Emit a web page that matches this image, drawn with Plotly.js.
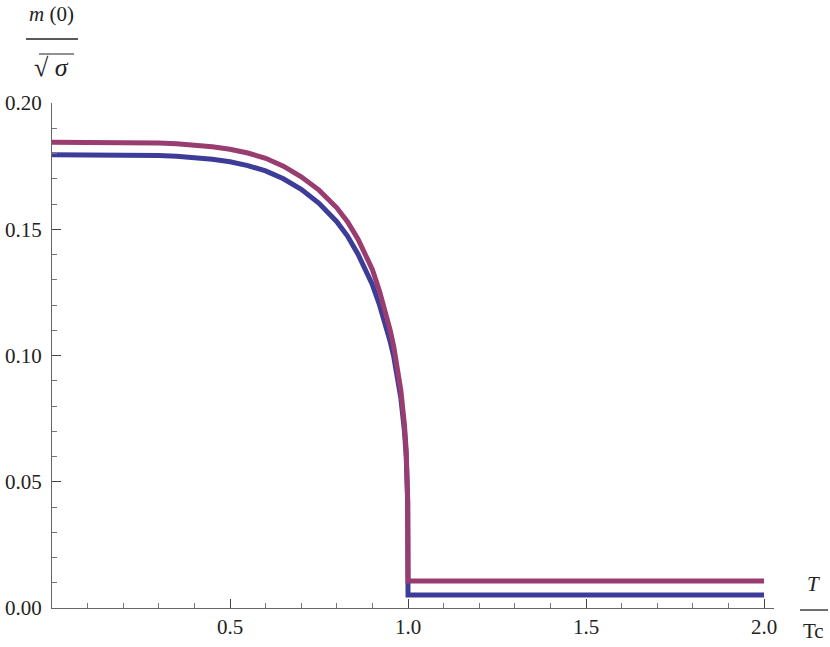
<!DOCTYPE html>
<html>
<head>
<meta charset="utf-8">
<script src="https://cdn.plot.ly/plotly-3.0.1.min.js"></script>
<style>
  html, body { margin: 0; padding: 0; background: #fff; }
  #chart { width: 830px; height: 647px; }
</style>
</head>
<body>
<div id="chart"></div>
<script>
// T / Tc sample points (1.0 is repeated for the vertical drop)
const tRatio = [0, 0.1, 0.2, 0.25, 0.3, 0.35, 0.4, 0.45, 0.5, 0.55, 0.6, 0.65, 0.7, 0.75, 0.8,
                0.83, 0.86, 0.88, 0.9, 0.92, 0.94, 0.95, 0.96, 0.97, 0.98, 0.99, 0.995, 0.999,
                1.0, 1.0, 1.5, 2.0];

// m(0)/sqrt(sigma), lower (blue) curve
const mBlue = [0.1795, 0.1795, 0.1795, 0.1794, 0.1792, 0.1789, 0.1784, 0.1777, 0.1767, 0.1752,
               0.1731, 0.1700, 0.1658, 0.1603, 0.1530, 0.1473, 0.1400, 0.1345, 0.1280, 0.1200,
               0.1110, 0.1055, 0.0995, 0.0920, 0.0830, 0.0700, 0.0600, 0.0420, 0.0300, 0.0051,
               0.0051, 0.0051];

// m(0)/sqrt(sigma), upper (purple) curve
const mRed = [0.1845, 0.1845, 0.1845, 0.1844, 0.1842, 0.1839, 0.1834, 0.1827, 0.1817, 0.1802,
              0.1781, 0.1750, 0.1708, 0.1655, 0.1585, 0.1530, 0.1460, 0.1405, 0.1340, 0.1255,
              0.1160, 0.1100, 0.1035, 0.0955, 0.0860, 0.0725, 0.0620, 0.0430, 0.0300, 0.0107,
              0.0107, 0.0107];

const xTicks = [0.5, 1.0, 1.5, 2.0];
const xTickText = ['0.5', '1.0', '1.5', '2.0'];
const yTicks = [0, 0.05, 0.1, 0.15, 0.2];
const yTickText = ['0.00', '0.05', '0.10', '0.15', '0.20'];

const serif = 'Times New Roman, Liberation Serif, serif';

const blueTrace = {
    x: tRatio,
    y: mBlue,
    type: 'scatter',
    mode: 'lines',
    line: { color: '#3d3d99', width: 5 },
    hoverinfo: 'skip'
};

const redTrace = {
    x: tRatio,
    y: mRed,
    type: 'scatter',
    mode: 'lines',
    line: { color: '#993d71', width: 5 },
    hoverinfo: 'skip'
};

function makeAxis(extra) {
    return Object.assign({
        showgrid: false,
        zeroline: false,
        showline: true,
        linecolor: '#666',
        linewidth: 1,
        ticks: 'inside',
        tickcolor: '#444',
        tickwidth: 1,
        ticklen: 9,
        tickmode: 'array',
        tickfont: { family: serif, size: 21, color: '#222' }
    }, extra);
}

const layout = {
    width: 830,
    height: 647,
    showlegend: false,
    font: { family: serif, color: '#222' },
    paper_bgcolor: '#fff',
    plot_bgcolor: '#fff',
    margin: { l: 52, r: 56, t: 103, b: 39 },
    xaxis: makeAxis({
        range: [0, 2.028],
        tickvals: xTicks,
        ticktext: xTickText,
        minor: { dtick: 0.1, tick0: 0, ticks: 'inside', ticklen: 5, tickcolor: '#777', showgrid: false }
    }),
    yaxis: makeAxis({
        range: [0, 0.2],
        tickvals: yTicks,
        ticktext: yTickText,
        ticklabelstandoff: 5,
        minor: { dtick: 0.01, tick0: 0, ticks: 'inside', ticklen: 5, tickcolor: '#777', showgrid: false }
    }),
    annotations: [
        { xref: 'paper', yref: 'paper', x: (51 - 52) / 722, y: (608 - 14) / 505, text: '<i>m</i> (0)',
          showarrow: false, xanchor: 'center', yanchor: 'middle', font: { family: serif, size: 21, color: '#222' } },
        { xref: 'paper', yref: 'paper', x: (51 - 52) / 722, y: (608 - 68) / 505, text: '√ <i>σ</i>',
          showarrow: false, xanchor: 'center', yanchor: 'middle', font: { family: serif, size: 26, color: '#222' } },
        { xref: 'paper', yref: 'paper', x: (813 - 52) / 722, y: (608 - 584) / 505, text: '<i>T</i>',
          showarrow: false, xanchor: 'center', yanchor: 'middle', font: { family: serif, size: 21, color: '#222' } },
        { xref: 'paper', yref: 'paper', x: (813 - 52) / 722, y: (608 - 631) / 505, text: 'Tc',
          showarrow: false, xanchor: 'center', yanchor: 'middle', font: { family: serif, size: 21, color: '#222' } }
    ],
    shapes: [
        // fraction bars and radical vinculum
        { type: 'line', xref: 'paper', yref: 'paper', x0: (26 - 52) / 722, x1: (78 - 52) / 722,
          y0: (608 - 39) / 505, y1: (608 - 39) / 505, line: { color: '#222', width: 1.3 } },
        { type: 'line', xref: 'paper', yref: 'paper', x0: (39 - 52) / 722, x1: (74 - 52) / 722,
          y0: (608 - 54) / 505, y1: (608 - 54) / 505, line: { color: '#222', width: 1.2 } },
        { type: 'line', xref: 'paper', yref: 'paper', x0: (800 - 52) / 722, x1: (828 - 52) / 722,
          y0: (608 - 610) / 505, y1: (608 - 610) / 505, line: { color: '#222', width: 1.3 } }
    ]
};

Plotly.newPlot('chart', [blueTrace, redTrace], layout, { displayModeBar: false });
</script>
</body>
</html>
